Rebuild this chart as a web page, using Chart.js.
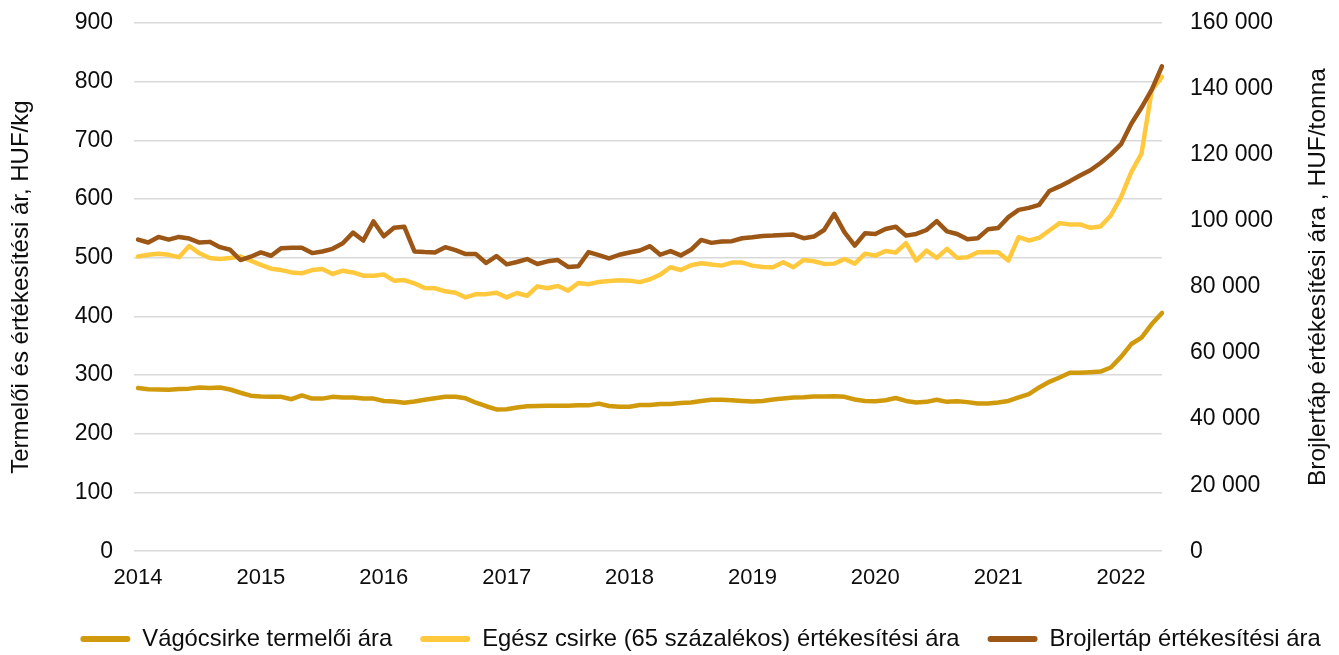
<!DOCTYPE html>
<html lang="hu">
<head>
<meta charset="utf-8">
<script src="https://cdn.jsdelivr.net/npm/chart.js@4"></script>
<style>
  html, body { margin: 0; padding: 0; background: #fff; overflow: hidden; }
  #wrap { position: relative; width: 1339px; height: 661px; }
</style>
</head>
<body>
<div id="wrap"><canvas id="chart"></canvas></div>
<script>
const FONT = "'Liberation Sans', Arial, sans-serif";
const TEXT = '#0d0d0d';
const GRID = '#d9d9d9';

// monthly data, Jan 2014 .. May 2022
const YEARS = ['2014', '2015', '2016', '2017', '2018', '2019', '2020', '2021', '2022'];
const MONTHS_IN_LAST_YEAR = 5;

const LEFT_TITLE = 'Termelői és értékesítési ár, HUF/kg';
const RIGHT_TITLE = 'Brojlertáp értékesítési ára , HUF/tonna';

const SERIES_NAMES = [
  'Vágócsirke termelői ára',
  'Egész csirke (65 százalékos) értékesítési ára',
  'Brojlertáp értékesítési ára',
];

// HUF/kg, left axis
const vagocsirke = [
  278, 276, 275.5, 275, 276.5, 277, 279, 278, 279, 275.5, 270, 265,
  263.5, 263, 263, 259, 265.5, 260, 260, 263, 262, 262, 260, 260,
  256, 255, 253, 255, 258, 260.5, 263, 263, 260.5, 253, 247, 241.5,
  242, 245, 247, 247.5, 248, 248, 248, 248.5, 248.5, 251.5, 247.5, 246,
  246, 249, 249.3, 251, 251, 252.7, 253.3, 256, 258, 258, 257.3, 256,
  255, 256, 258.4, 260, 261.8, 262.4, 263.5, 263.5, 264, 263, 258.4, 256,
  255.6, 257.3, 261, 256, 253.3, 254.5, 258, 254.5, 255.6, 254, 251.6, 251.6,
  253.3, 256, 262, 267.6, 279, 288.6, 296, 304, 304, 305, 306, 313,
  331, 353, 364, 387, 406,
];

// HUF/kg, left axis
const egeszCsirke = [
  502, 505, 507, 505, 501, 520, 507.6, 499.6, 498, 499.6, 502, 495,
  488, 481.4, 479, 475, 473.5, 479, 481, 472.3, 478, 475, 469.5, 469.5,
  471.5, 461, 462, 456.4, 448.5, 448, 442.8, 440.5, 432.5, 438, 438, 440.5,
  432.5, 440, 435.3, 451.3, 448, 452, 444, 457, 455, 458.6, 460.4, 461.5,
  461, 458.5, 463.3, 471.3, 483.8, 479.2, 487.2, 490.6, 488.4, 486.6, 491.8, 491.8,
  486.6, 484.3, 483.8, 492.4, 483.8, 496.3, 494, 489.5, 490, 498, 490, 507,
  503.6, 511.6, 509, 524.8, 495.2, 512.3, 499.8, 515.1, 499.8, 500.9, 509.4, 510,
  509.4, 495.2, 535, 529.4, 533.9, 546.4, 559, 556.7, 556.7, 551, 553.3, 572,
  603.4, 646, 677.4, 785.5, 808,
];

// HUF/tonna, right axis
const brojlertap = [
  94400, 93500, 95200, 94400, 95200, 94700, 93500, 93700, 92100, 91300, 88200, 89200,
  90500, 89500, 91800, 91900, 91900, 90300, 90800, 91600, 93300, 96500, 94100, 99900,
  95400, 98000, 98300, 90800, 90600, 90500, 92100, 91200, 90000, 90000, 87300, 89400,
  86900, 87600, 88500, 87000, 87800, 88200, 86100, 86300, 90600, 89700, 88700, 89800,
  90500, 91100, 92400, 89800, 90900, 89600, 91300, 94300, 93400, 93800, 93900, 94800,
  95100, 95500, 95600, 95800, 95900, 94800, 95300, 97300, 102200, 96600, 92600, 96300,
  96100, 97600, 98300, 95600, 96100, 97300, 100000, 96900, 96100, 94500, 94800, 97500,
  97900, 101200, 103400, 104000, 104900, 109100, 110500, 112100, 113800, 115400, 117600, 120200,
  123300, 129500, 134400, 139800, 146900,
];

const COLORS = ['#d09a0c', '#ffc83d', '#9c5616'];

const labels = [];
YEARS.forEach((y, yi) => {
  const n = yi === YEARS.length - 1 ? MONTHS_IN_LAST_YEAR : 12;
  for (let m = 1; m <= n; m++) labels.push(`${y}-${String(m).padStart(2, '0')}`);
});

function fmtThousands(v) {
  return String(v).replace(/\B(?=(\d{3})+(?!\d))/g, ' ');
}

function lineDataset(i, data, axis, order) {
  return {
    label: SERIES_NAMES[i],
    data,
    yAxisID: axis,
    order,
    borderColor: COLORS[i],
    backgroundColor: COLORS[i],
    borderWidth: 4.5,
    borderJoinStyle: 'round',
    borderCapStyle: 'round',
    pointRadius: 0,
    tension: 0,
  };
}

// fixed axis box widths; drop the tick-padding that Chart.js adds above/below
function fixWidth(w) {
  return s => {
    s.width = w;
    s.paddingTop = 0;
    s.paddingBottom = 0;
  };
}

// right axis title reads bottom-to-top, like the left one;
// also nudge the legend a bit right, as in the original
const extras = {
  id: 'extras',
  afterLayout(chart) {
    chart.legend.left += 31;
    chart.legend.right += 31;
  },
  afterDraw(chart) {
    const { ctx, chartArea } = chart;
    ctx.save();
    ctx.translate(chart.width - 21, (chartArea.top + chartArea.bottom) / 2 - 10);
    ctx.rotate(-Math.PI / 2);
    ctx.font = `24.5px ${FONT}`;
    ctx.fillStyle = TEXT;
    ctx.textAlign = 'center';
    ctx.textBaseline = 'middle';
    ctx.fillText(RIGHT_TITLE, 0, 0);
    ctx.restore();
  }
};

Chart.defaults.font.family = FONT;
Chart.defaults.color = TEXT;

new Chart(document.getElementById('chart'), {
  type: 'line',
  data: {
    labels,
    datasets: [
      lineDataset(0, vagocsirke, 'y', 2),
      lineDataset(1, egeszCsirke, 'y', 1),
      lineDataset(2, brojlertap, 'y1', 0),
    ],
  },
  options: {
    responsive: true,
    maintainAspectRatio: false,
    animation: false,
    devicePixelRatio: 1,
    layout: { padding: { top: 23, left: 0, right: 0, bottom: 0 } },
    scales: {
      x: {
        grid: { display: false, drawTicks: false },
        border: { display: false },
        ticks: {
          autoSkip: false,
          maxRotation: 0,
          padding: 14,
          font: { size: 22 },
          callback: function (value) {
            const lab = this.getLabelForValue(value);
            return lab.endsWith('-01') ? lab.slice(0, 4) : '';
          },
        },
        afterFit: s => { s.height = 48; },
      },
      y: {
        position: 'left',
        min: 0,
        max: 900,
        ticks: { stepSize: 100, padding: 21, font: { size: 23 } },
        grid: { color: GRID, lineWidth: 1.5, drawTicks: true, tickLength: 4 },
        border: { display: false },
        title: {
          display: true,
          text: LEFT_TITLE,
          font: { size: 24 },
          padding: { top: 7, bottom: 0 },
        },
        afterFit: fixWidth(138),
      },
      y1: {
        position: 'right',
        min: 0,
        max: 160000,
        ticks: { stepSize: 20000, padding: 28, font: { size: 23 }, callback: v => fmtThousands(v) },
        grid: { display: false, drawTicks: false },
        border: { display: false },
        afterFit: fixWidth(177),
      },
    },
    plugins: {
      tooltip: { enabled: false },
      legend: {
        position: 'bottom',
        labels: {
          boxWidth: 50,
          boxHeight: 6,
          padding: 28,
          useBorderRadius: true,
          borderRadius: 3,
          font: { size: 23.8 },
          color: TEXT,
          sort: (a, b) => a.datasetIndex - b.datasetIndex,
          generateLabels: chart => Chart.defaults.plugins.legend.labels
            .generateLabels(chart)
            .map(l => ({ ...l, lineWidth: 0 })),
        },
      },
    },
  },
  plugins: [extras],
});
</script>
</body>
</html>
